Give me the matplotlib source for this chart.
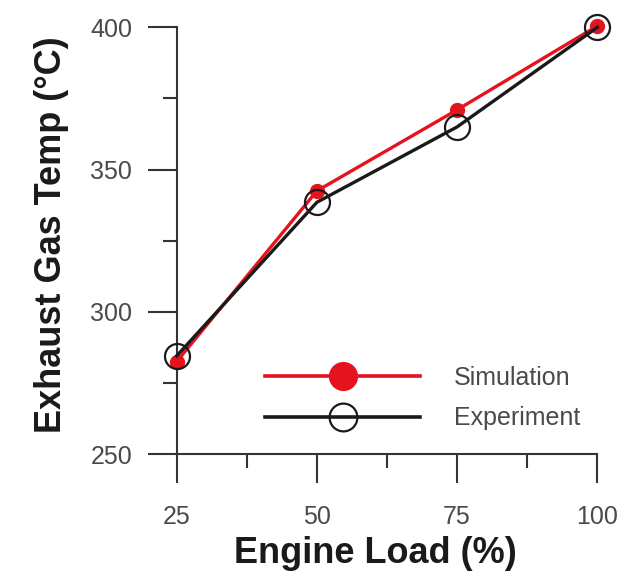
import matplotlib.pyplot as plt
from matplotlib.lines import Line2D
from matplotlib.ticker import MultipleLocator

# values
load = [25, 50, 75, 100]
sim_temp = [282.5, 342.5, 371, 400.5]
exp_temp = [284.5, 338.5, 365, 400]

red = '#e5131d'
dark = '#1a1a1a'
grey = '#4a4a4a'

plt.rcParams['font.family'] = ['Liberation Sans', 'DejaVu Sans']

fig = plt.figure(figsize=(6.39, 5.79), dpi=100)
ax = fig.add_axes([147 / 639, 125 / 579, 457 / 639, (454 - 16) / 579])

ax.plot(load, sim_temp, color=red, lw=2.4, marker='o', ms=10,
        mfc=red, mec=red, zorder=3, clip_on=False)
ax.plot(load, exp_temp, color=dark, lw=2.4, marker='o', ms=18,
        mfc='none', mec=dark, mew=1.6, zorder=4, clip_on=False)

ax.set_xlim(19.7, 101.2)
ax.set_ylim(250, 404)

# axis lines: y axis sits on x = 25, both axes bounded like the original
for s in ['top', 'right']:
    ax.spines[s].set_visible(False)
ax.spines['left'].set_position(('data', 25))
ax.spines['left'].set_bounds(250, 400)
ax.spines['bottom'].set_bounds(25, 100)
for s in ['left', 'bottom']:
    ax.spines[s].set_linewidth(1.5)
    ax.spines[s].set_color('#333333')

ax.set_xticks(load)
ax.xaxis.set_minor_locator(MultipleLocator(12.5))
ax.set_yticks([250, 300, 350, 400])
ax.yaxis.set_minor_locator(MultipleLocator(25))
ax.tick_params(which='major', direction='out', length=21, width=1.5,
               color='#333333', labelsize=18, labelcolor=grey)
ax.tick_params(which='minor', direction='out', length=10, width=1.5,
               color='#333333')
ax.tick_params(axis='x', which='major', pad=16)
ax.tick_params(axis='y', which='major', pad=11)

ax.set_xlabel('Engine Load (%)', fontsize=26, fontweight='bold',
              color=dark, labelpad=5)
ax.set_ylabel('Exhaust Gas Temp (°C)', fontsize=26, fontweight='bold',
              color=dark, labelpad=15)

handles = [
    Line2D([], [], color=red, lw=2.6, marker='o', ms=20, mfc=red, mec=red),
    Line2D([], [], color=dark, lw=2.6, marker='o', ms=20, mfc='none',
           mec=dark, mew=1.6),
]
ax.legend(handles, ['Simulation', 'Experiment'], loc='upper left',
          bbox_to_anchor=(265 / 639, 1 - 366 / 579),
          bbox_transform=fig.transFigure, frameon=False, fontsize=18,
          labelcolor=grey, handlelength=6.2, handletextpad=1.35,
          labelspacing=0.65, borderpad=0, borderaxespad=0)

fig.savefig('out.png', dpi=100)
